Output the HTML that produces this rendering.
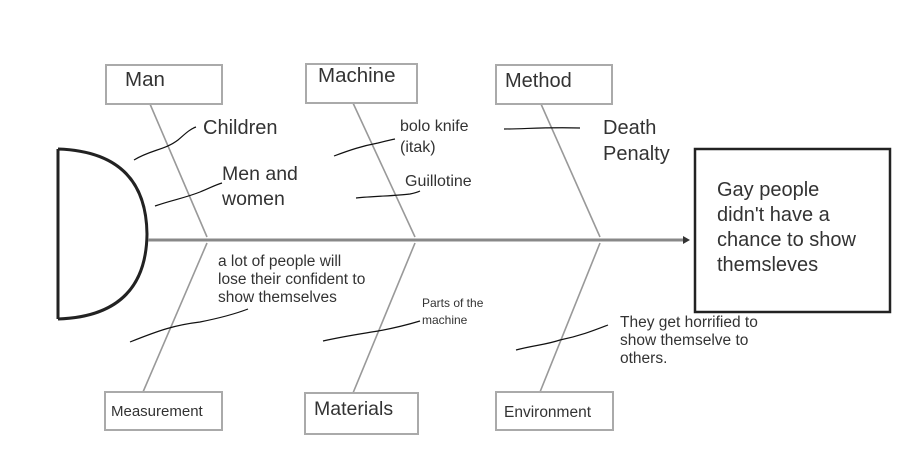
<!DOCTYPE html>
<html><head><style>
html,body{margin:0;padding:0;background:#fff;}
svg{display:block;font-family:"Liberation Sans",Arial,sans-serif;}
</style></head><body>
<svg width="915" height="476" viewBox="0 0 915 476" xmlns="http://www.w3.org/2000/svg">
<rect width="915" height="476" fill="#fff"/>
<path d="M58,149 L58,319 M58,149 Q146,152 147,234 Q146,316 58,319" fill="none" stroke="#222" stroke-width="3"/>
<line x1="148" y1="240" x2="683" y2="240" stroke="#888" stroke-width="3"/>
<polygon points="683,236 690,240 683,244" fill="#333"/>
<g stroke="#999" stroke-width="1.6" fill="none">
<line x1="150" y1="104" x2="207" y2="237"/>
<line x1="353" y1="103" x2="415" y2="237"/>
<line x1="541" y1="104" x2="600" y2="237"/>
<line x1="207" y1="243" x2="143" y2="392"/>
<line x1="415" y1="243" x2="353" y2="393"/>
<line x1="600" y1="243" x2="540" y2="392"/>
</g>
<g fill="#fff" stroke="#aaa" stroke-width="2">
<rect x="106" y="65" width="116" height="39"/>
<rect x="306" y="64" width="111" height="39"/>
<rect x="496" y="65" width="116" height="39"/>
<rect x="105" y="392" width="117" height="38"/>
<rect x="305" y="393" width="113" height="41"/>
<rect x="496" y="392" width="117" height="38"/>
</g>
<rect x="695" y="149" width="195" height="163" fill="#fff" stroke="#222" stroke-width="2.5"/>
<g stroke="#111" stroke-width="1.2" fill="none">
<path d="M134,160 C150,150 165,150 178,140 C185,134 190,129 196,127"/>
<path d="M155,206 C172,200 185,198 200,192 C210,188 215,185 222,183"/>
<path d="M334,156 C350,150 362,146 378,143 C386,141 390,140 395,139"/>
<path d="M356,198 C375,196 395,196 410,194 C415,193 418,192 420,191"/>
<path d="M504,129 C525,129 545,127 580,128"/>
<path d="M130,342 C160,330 175,325 200,322 C220,318 235,314 248,309"/>
<path d="M323,341 C345,336 360,334 378,331 C395,328 410,324 420,321"/>
<path d="M516,350 C535,345 545,345 560,340 C580,336 595,330 608,325"/>
</g>
<g fill="#333">
<text x="125" y="86" font-size="20.5">Man</text>
<text x="318" y="82" font-size="20.5">Machine</text>
<text x="505" y="87" font-size="20">Method</text>
<text x="111" y="416" font-size="15">Measurement</text>
<text x="314" y="415" font-size="19.5">Materials</text>
<text x="504" y="417" font-size="15.5">Environment</text>
<text x="203" y="134" font-size="20">Children</text>
<text x="222" y="180" font-size="19.5">Men and</text>
<text x="222" y="205" font-size="19.5">women</text>
<text x="400" y="131" font-size="16">bolo knife</text>
<text x="400" y="152" font-size="16">(itak)</text>
<text x="405" y="186" font-size="16">Guillotine</text>
<text x="603" y="134" font-size="20">Death</text>
<text x="603" y="160" font-size="20">Penalty</text>
<text x="717" y="196" font-size="20">Gay people</text>
<text x="717" y="221" font-size="20">didn't have a</text>
<text x="717" y="246" font-size="20">chance to show</text>
<text x="717" y="271" font-size="20">themsleves</text>
<text x="218" y="266" font-size="15.5">a lot of people will</text>
<text x="218" y="284" font-size="15.5">lose their confident to</text>
<text x="218" y="302" font-size="15.5">show themselves</text>
<text x="422" y="307" font-size="12">Parts of the</text>
<text x="422" y="324" font-size="12">machine</text>
<text x="620" y="327" font-size="15.5">They get horrified to</text>
<text x="620" y="345" font-size="15.5">show themselve to</text>
<text x="620" y="363" font-size="15.5">others.</text>
</g>
</svg>
</body></html>
